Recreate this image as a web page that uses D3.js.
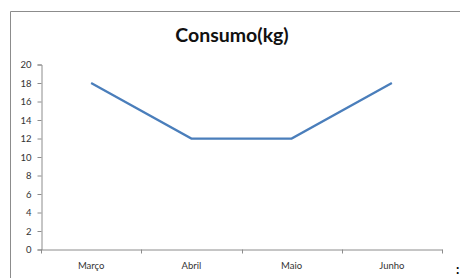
<!DOCTYPE html>
<html>
<head>
<meta charset="utf-8">
<script src="https://cdn.jsdelivr.net/npm/d3@7"></script>
<style>
  body { margin: 0; background: #fff; }
  svg { display: block; font-family: Lato, "Open Sans", sans-serif; }
</style>
</head>
<body>
<div id="chart"></div>
<script>
const months = ["Março", "Abril", "Maio", "Junho"];
const consumo = [18, 12, 12, 18];
const yTicks = [0, 2, 4, 6, 8, 10, 12, 14, 16, 18, 20];

const width = 460, height = 278;
const svg = d3.select("#chart").append("svg")
    .attr("width", width)
    .attr("height", height);

// chart frame (only top and left edges are in view)
svg.append("path")
    .attr("d", "M10.5,290 V11.5 H460")
    .attr("fill", "none")
    .attr("stroke", "#8c8c8c")
    .attr("stroke-width", 1);

svg.append("text")
    .attr("x", 232)
    .attr("y", 42)
    .attr("text-anchor", "middle")
    .attr("font-size", 19.5)
    .attr("font-weight", "bold")
    .attr("fill", "#111")
    .text("Consumo(kg)");

const x = d3.scaleBand().domain(months).range([41, 442]);
const y = d3.scaleLinear().domain([0, 20]).range([249.5, 64.5]);

// y axis
const yAxis = svg.append("g")
    .attr("transform", "translate(41.5,0)")
    .call(d3.axisLeft(y).tickValues(yTicks).tickSize(4).tickPadding(6));
yAxis.selectAll("text").attr("font-size", 9.5).attr("fill", "#333").attr("font-family", "Lato, sans-serif");

// x axis, ticks at band edges
const xAxis = svg.append("g")
    .attr("transform", `translate(0,${y(0)})`)
    .call(d3.axisBottom(x).tickSize(0).tickPadding(13));
xAxis.selectAll("text").attr("font-size", 9.5).attr("fill", "#333").attr("font-family", "Lato, sans-serif");
xAxis.selectAll(".edge")
    .data(months.map(m => x(m)).concat([x.range()[1]]))
    .enter().append("line")
    .attr("x1", d => Math.round(d) + 0.5)
    .attr("x2", d => Math.round(d) + 0.5)
    .attr("y1", 0)
    .attr("y2", 4)
    .attr("stroke", "#8c8c8c");

svg.selectAll(".domain, .tick line").attr("stroke", "#8c8c8c");

const line = d3.line()
    .x((d, i) => x(months[i]) + x.bandwidth() / 2)
    .y(d => y(d));

svg.append("path")
    .datum(consumo)
    .attr("d", line)
    .attr("fill", "none")
    .attr("stroke", "#4a7ebb")
    .attr("stroke-width", 2.25);

svg.append("text")
    .attr("x", 456)
    .attr("y", 274)
    .attr("font-size", 13)
    .attr("font-weight", "bold")
    .attr("fill", "#000")
    .text(":");
</script>
</body>
</html>
